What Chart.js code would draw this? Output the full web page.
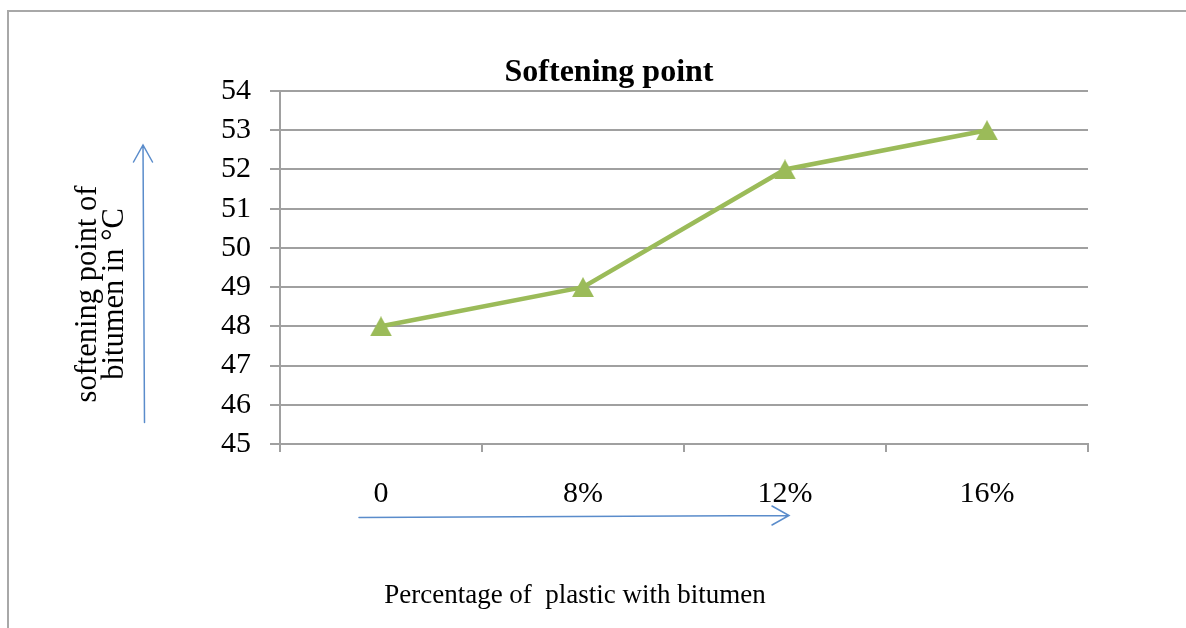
<!DOCTYPE html>
<html>
<head>
<meta charset="utf-8">
<title>Softening point</title>
<script src="https://cdn.jsdelivr.net/npm/chart.js@4/dist/chart.umd.min.js"></script>
<style>
  html, body { margin: 0; padding: 0; background: #ffffff; }
  #wrap { width: 1186px; height: 628px; }
</style>
</head>
<body>
<div id="wrap"><canvas id="chart" width="1186" height="628"></canvas></div>
<script>
// Plastic content added to the bitumen, and the softening point measured for each mix
const categories = ['0', '8%', '12%', '16%'];
const softeningPoint = [48, 49, 52, 53];
const yTickRange = { min: 45, max: 54, step: 1 };

const chartTitle = 'Softening point';
const xAxisTitle = 'Percentage of  plastic with bitumen';
const yAxisTitle = ['softening point of', 'bitumen in \u00B0C'];

const SERIF = '"Liberation Serif", "Times New Roman", Times, serif';
const GREEN = '#9bbb59';
const GRID = '#a0a0a0';
const ARROW = '#5a8ccb';

// Triangle marker image, centred on each data point by Chart.js
function triangleMarker(w, h, color) {
  const c = document.createElement('canvas');
  c.width = w;
  c.height = h;
  const g = c.getContext('2d');
  g.fillStyle = color;
  g.beginPath();
  g.moveTo(w / 2, 0);
  g.lineTo(w, h);
  g.lineTo(0, h);
  g.closePath();
  g.fill();
  return c;
}
const marker = triangleMarker(22, 20, GREEN);

// Frame, direction arrows and the free-standing texts around the plot
const decorations = {
  id: 'decorations',
  beforeDraw(chart) {
    const ctx = chart.ctx;
    ctx.save();
    ctx.fillStyle = '#ffffff';
    ctx.fillRect(0, 0, chart.width, chart.height);
    ctx.strokeStyle = '#a8a8a8';
    ctx.lineWidth = 2;
    ctx.strokeRect(8, 11, chart.width + 20, chart.height + 20);
    ctx.restore();
  },
  afterDraw(chart) {
    const ctx = chart.ctx;
    ctx.save();

    // arrows
    ctx.strokeStyle = ARROW;
    ctx.lineWidth = 1.5;
    ctx.lineCap = 'round';
    ctx.beginPath();
    ctx.moveTo(144.5, 422.5);
    ctx.lineTo(143, 145);
    ctx.moveTo(133.5, 162);
    ctx.lineTo(143, 145);
    ctx.lineTo(152.5, 162);
    ctx.stroke();

    ctx.beginPath();
    ctx.moveTo(359, 517.5);
    ctx.lineTo(789, 515.5);
    ctx.moveTo(772, 506);
    ctx.lineTo(789, 515.5);
    ctx.lineTo(772, 525);
    ctx.stroke();

    // chart title
    ctx.fillStyle = '#000000';
    ctx.textAlign = 'center';
    ctx.textBaseline = 'alphabetic';
    ctx.font = 'bold 32px ' + SERIF;
    ctx.fillText(chartTitle, 609, 81);

    // x axis title
    ctx.font = '27px ' + SERIF;
    ctx.fillText(xAxisTitle, 575, 603);

    // y axis title, two lines reading bottom to top
    ctx.save();
    ctx.translate(0, 294);
    ctx.rotate(-Math.PI / 2);
    ctx.font = '30.5px ' + SERIF;
    ctx.fillText(yAxisTitle[0], 0, 96);
    ctx.fillText(yAxisTitle[1], 0, 123);
    ctx.restore();

    ctx.restore();
  }
};

new Chart(document.getElementById('chart'), {
  type: 'line',
  data: {
    labels: categories,
    datasets: [{
      label: chartTitle,
      data: softeningPoint,
      borderColor: GREEN,
      backgroundColor: GREEN,
      borderWidth: 4.5,
      tension: 0,
      pointStyle: marker,
      pointRadius: 11,
      clip: false
    }]
  },
  options: {
    responsive: false,
    animation: false,
    devicePixelRatio: 1,
    layout: { padding: { left: 0, top: 91, right: 98, bottom: 0 } },
    plugins: {
      legend: { display: false },
      title: { display: false },
      tooltip: { enabled: false }
    },
    scales: {
      x: {
        type: 'category',
        offset: true,
        grid: {
          offset: true,
          drawOnChartArea: false,
          drawTicks: true,
          tickLength: 8,
          color: GRID,
          lineWidth: 2
        },
        border: { display: true, color: GRID, width: 2 },
        ticks: {
          color: '#000000',
          padding: 24,
          maxRotation: 0,
          font: { family: SERIF, size: 30 }
        },
        afterFit(scale) { scale.height = 184; }
      },
      y: {
        min: yTickRange.min,
        max: yTickRange.max,
        grid: {
          color: GRID,
          lineWidth: 2,
          drawTicks: true,
          tickLength: 10
        },
        border: { display: true, color: GRID, width: 2 },
        ticks: {
          stepSize: yTickRange.step,
          color: '#000000',
          padding: 19,
          font: { family: SERIF, size: 30 }
        },
        afterFit(scale) { scale.width = 280; }
      }
    }
  },
  plugins: [decorations]
});
</script>
</body>
</html>
